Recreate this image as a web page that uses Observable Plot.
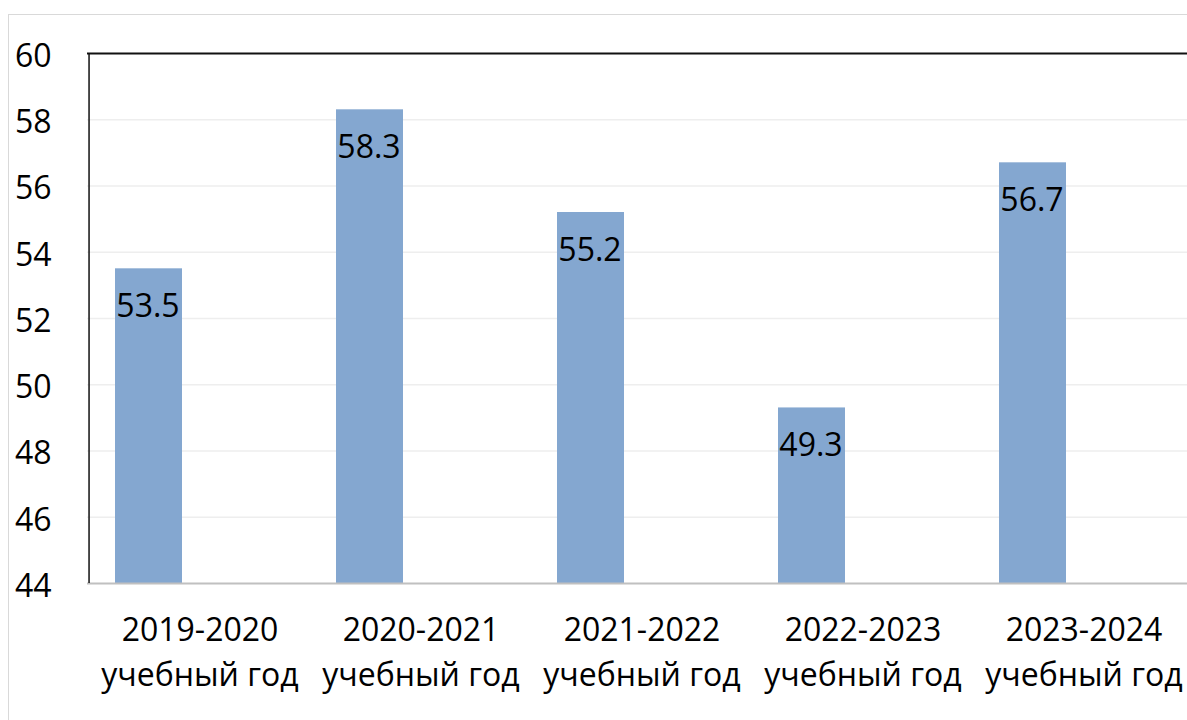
<!DOCTYPE html>
<html>
<head>
<meta charset="utf-8">
<script src="https://cdn.jsdelivr.net/npm/d3@7"></script>
<script src="https://cdn.jsdelivr.net/npm/@observablehq/plot@0.6"></script>
<style>
  html, body { margin: 0; padding: 0; background: #fff; overflow: hidden; }
  #wrap { position: relative; width: 1187px; height: 720px; overflow: hidden; }
  #frame { position: absolute; left: 8px; top: 14px; width: 1300px; height: 800px; border: 1px solid #d9d9d9; box-sizing: border-box; }
  #chart { position: absolute; left: 0; top: 0; }
  #chart svg { overflow: hidden; }
</style>
</head>
<body>
<div id="wrap"><div id="frame"></div><div id="chart"></div></div>
<script>
const years = ["2019-2020", "2020-2021", "2021-2022", "2022-2023", "2023-2024"];
const suffix = "учебный год";
const values = [53.5, 58.3, 55.2, 49.3, 56.7];
const yTicks = [44, 46, 48, 50, 52, 54, 56, 58, 60];

const data = years.map((y, i) => ({cat: y, value: values[i]}));
const font = "'Open Sans', 'Noto Sans', sans-serif";

const chart = Plot.plot({
  width: 1187,
  height: 720,
  marginLeft: 87,
  marginTop: 53,
  marginBottom: 137,
  marginRight: 0,
  style: {fontFamily: font, background: "transparent"},
  x: {domain: years, range: [87, 87 + 5 * 221.9], padding: 0},
  y: {domain: [44, 60], ticks: yTicks},
  marks: [
    Plot.gridY(yTicks.filter(t => t > 44 && t < 60), {stroke: "#eeeeee", strokeOpacity: 1, strokeWidth: 1.5}),
    Plot.barY(data, {x: "cat", y1: 44, y2: "value", fill: "#84a7d0", insetLeft: 26, insetRight: 128}),
    Plot.text(data, {x: "cat", y: "value", text: d => d.value.toFixed(1), dx: -52, dy: 38, fontSize: 32, fill: "#000", lineAnchor: "middle"}),
    Plot.ruleY([44], {stroke: "#c0c0c0", strokeWidth: 2}),
    Plot.ruleY([60], {stroke: "#111", strokeWidth: 2}),
    Plot.ruleX([years[0]], {dx: -110.95, y1: 44, y2: 60, stroke: "#111", strokeWidth: 1.5}),
    Plot.axisY({ticks: yTicks, tickSize: 0, tickPadding: 36, dy: 3, fontSize: 32, fill: "#000", label: null, textAnchor: "end"}),
    Plot.axisX({tickSize: 0, tickPadding: 25, fontSize: 32, fill: "#000", label: null, lineHeight: 1.42,
      tickFormat: d => d + "\n" + suffix})
  ]
});
document.getElementById("chart").appendChild(chart);
</script>
</body>
</html>
